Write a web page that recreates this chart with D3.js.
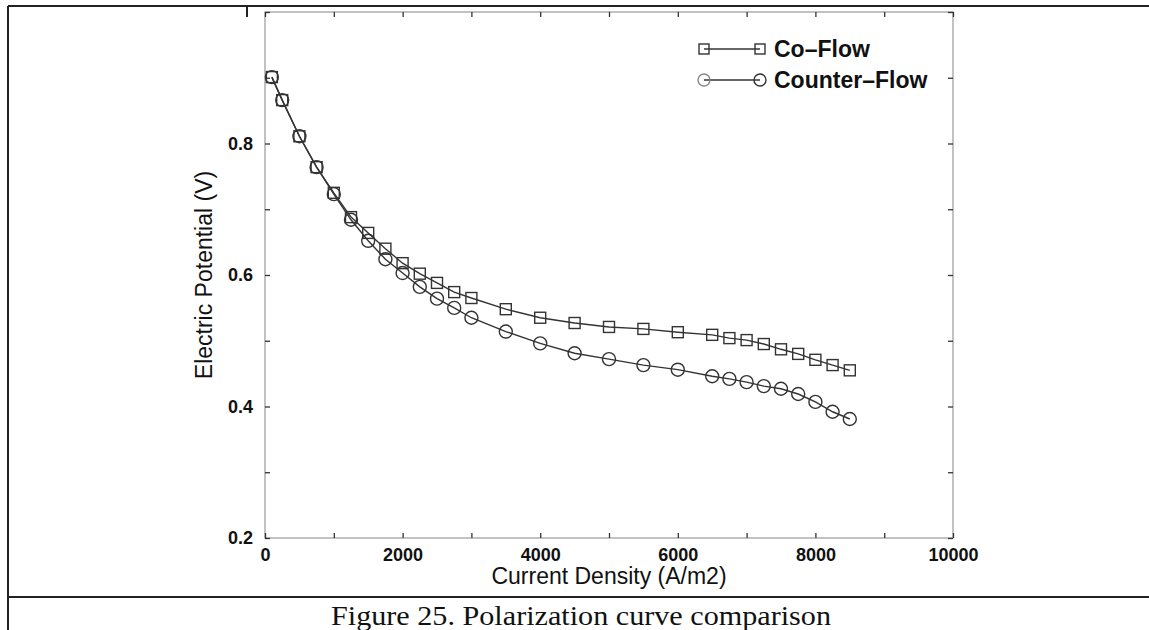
<!DOCTYPE html>
<html>
<head>
<meta charset="utf-8">
<script src="https://cdn.jsdelivr.net/npm/d3@7"></script>
<style>
  html, body { margin: 0; padding: 0; background: #fff; }
  svg { display: block; }
</style>
</head>
<body>
<div id="viz"></div>
<script>
// current density (A/m2)
const currentDensity = [100, 250, 500, 750, 1000, 1250, 1500, 1750, 2000, 2250, 2500, 2750, 3000,
  3500, 4000, 4500, 5000, 5500, 6000, 6500, 6750, 7000, 7250, 7500, 7750, 8000, 8250, 8500]
// electric potential (V)
const coFlow = [0.901, 0.866, 0.811, 0.764, 0.725, 0.688, 0.664, 0.640, 0.618, 0.602, 0.588, 0.574, 0.565,
  0.548, 0.535, 0.527, 0.521, 0.518, 0.513, 0.509, 0.504, 0.501, 0.495, 0.487, 0.480, 0.471, 0.463, 0.455]
const counterFlow = [0.901, 0.866, 0.811, 0.764, 0.723, 0.684, 0.652, 0.624, 0.603, 0.582, 0.564, 0.550, 0.535,
  0.514, 0.496, 0.481, 0.472, 0.463, 0.456, 0.446, 0.442, 0.437, 0.431, 0.427, 0.419, 0.407, 0.392, 0.381]
const xTicks = [0, 1000, 2000, 3000, 4000, 5000, 6000, 7000, 8000, 9000, 10000]
const xLabels = [0, 2000, 4000, 6000, 8000, 10000]
const yTicks = [0.2, 0.3, 0.4, 0.5, 0.6, 0.7, 0.8, 0.9, 1.0]
const yLabels = [0.2, 0.4, 0.6, 0.8]
const seriesNames = ["Co–Flow", "Counter–Flow"]

const width = 1149
const height = 630
const plot = { left: 265, right: 953, top: 12, bottom: 538 }

const svg = d3.select("#viz").append("svg")
  .attr("width", width)
  .attr("height", height)

// page frame (scanned report table)
const frame = svg.append("g").attr("stroke", "#222").attr("stroke-width", 2)
frame.append("line").attr("x1", 8).attr("x2", width).attr("y1", 6).attr("y2", 6)
frame.append("line").attr("x1", 8).attr("x2", 8).attr("y1", 6).attr("y2", height)
frame.append("line").attr("x1", 8).attr("x2", width).attr("y1", 597).attr("y2", 597)
frame.append("line").attr("x1", 247).attr("x2", 247).attr("y1", 6).attr("y2", 17)

svg.append("text")
  .attr("x", 331).attr("y", 625)
  .attr("textLength", 500)
  .attr("lengthAdjust", "spacingAndGlyphs")
  .style("font-family", "'Liberation Serif', 'Times New Roman', serif")
  .style("font-size", "28px")
  .attr("fill", "#111")
  .text("Figure 25. Polarization curve comparison")

const x = d3.scaleLinear().domain([0, 10000]).range([plot.left, plot.right])
const y = d3.scaleLinear().domain([0.2, 1.0]).range([plot.bottom, plot.top])

// plot box
svg.append("rect")
  .attr("x", plot.left).attr("y", plot.top)
  .attr("width", plot.right - plot.left).attr("height", plot.bottom - plot.top)
  .attr("fill", "none").attr("stroke", "#999").attr("stroke-width", 1.2)

const tickFont = g => g.selectAll("text")
  .style("font-family", "'Liberation Sans', Arial, sans-serif")
  .style("font-size", "18px")
  .style("font-weight", "bold")
  .attr("fill", "#111")

const fmtX = d => xLabels.includes(d) ? d : ""
const fmtY = d => yLabels.some(v => Math.abs(v - d) < 1e-9) ? d3.format(".1f")(d) : ""

// inward ticks on all four sides
const bottomAxis = svg.append("g")
  .attr("transform", `translate(0,${plot.bottom})`)
  .call(d3.axisBottom(x).tickValues(xTicks).tickSize(-5).tickPadding(10).tickFormat(fmtX))
bottomAxis.call(tickFont)
svg.append("g")
  .attr("transform", `translate(0,${plot.top})`)
  .call(d3.axisTop(x).tickValues(xTicks).tickSize(-5).tickFormat(""))
const leftAxis = svg.append("g")
  .attr("transform", `translate(${plot.left},0)`)
  .call(d3.axisLeft(y).tickValues(yTicks).tickSize(-5).tickPadding(12).tickFormat(fmtY))
leftAxis.call(tickFont)
svg.append("g")
  .attr("transform", `translate(${plot.right},0)`)
  .call(d3.axisRight(y).tickValues(yTicks).tickSize(-5).tickFormat(""))

svg.selectAll(".domain").remove()
svg.selectAll(".tick line").attr("stroke", "#333").attr("stroke-width", 1.3)

// axis titles
svg.append("text")
  .attr("x", (plot.left + plot.right) / 2).attr("y", 584)
  .attr("text-anchor", "middle")
  .style("font-family", "'Liberation Sans', Arial, sans-serif")
  .style("font-size", "23px")
  .attr("fill", "#111")
  .text("Current Density (A/m2)")

svg.append("text")
  .attr("transform", `translate(212,${(plot.top + plot.bottom) / 2}) rotate(-90)`)
  .attr("text-anchor", "middle")
  .style("font-family", "'Liberation Sans', Arial, sans-serif")
  .style("font-size", "23px")
  .attr("fill", "#111")
  .text("Electric Potential (V)")

// curves
const line = d3.line().x((d, i) => x(currentDensity[i])).y(d => y(d))
const stroke = "#333"

svg.append("path").datum(counterFlow)
  .attr("d", line).attr("fill", "none").attr("stroke", stroke).attr("stroke-width", 1.4)
svg.append("path").datum(coFlow)
  .attr("d", line).attr("fill", "none").attr("stroke", stroke).attr("stroke-width", 1.4)

svg.append("g").selectAll("circle")
  .data(counterFlow)
  .join("circle")
  .attr("cx", (d, i) => x(currentDensity[i]))
  .attr("cy", d => y(d))
  .attr("r", 6.5)
  .attr("fill", "none").attr("stroke", stroke).attr("stroke-width", 1.4)

const sq = 11
svg.append("g").selectAll("rect")
  .data(coFlow)
  .join("rect")
  .attr("x", (d, i) => x(currentDensity[i]) - sq / 2)
  .attr("y", d => y(d) - sq / 2)
  .attr("width", sq).attr("height", sq)
  .attr("fill", "none").attr("stroke", stroke).attr("stroke-width", 1.4)

// legend
const legend = svg.append("g")
const rows = [49, 80]
const textStart = 774
legend.selectAll("text")
  .data(seriesNames)
  .join("text")
  .attr("x", textStart)
  .attr("y", (d, i) => rows[i])
  .attr("dy", "0.36em")
  .style("font-family", "'Liberation Sans', Arial, sans-serif")
  .style("font-size", "23px")
  .style("font-weight", "bold")
  .attr("fill", "#111")
  .text(d => d)

const mRight = textStart - 14
const mLeft = textStart - 70
rows.forEach((ry, i) => {
  legend.append("line")
    .attr("x1", mLeft).attr("x2", mRight).attr("y1", ry).attr("y2", ry)
    .attr("stroke", stroke).attr("stroke-width", 1.4)
  ;[mLeft, mRight].forEach((mx, j) => {
    const c = (i === 1 && j === 0) ? "#888" : stroke
    if (i === 0) {
      legend.append("rect")
        .attr("x", mx - 5).attr("y", ry - 5).attr("width", 10).attr("height", 10)
        .attr("fill", "none").attr("stroke", c).attr("stroke-width", 1.4)
    } else {
      legend.append("circle")
        .attr("cx", mx).attr("cy", ry).attr("r", 6)
        .attr("fill", "none").attr("stroke", c).attr("stroke-width", 1.4)
    }
  })
})
</script>
</body>
</html>
